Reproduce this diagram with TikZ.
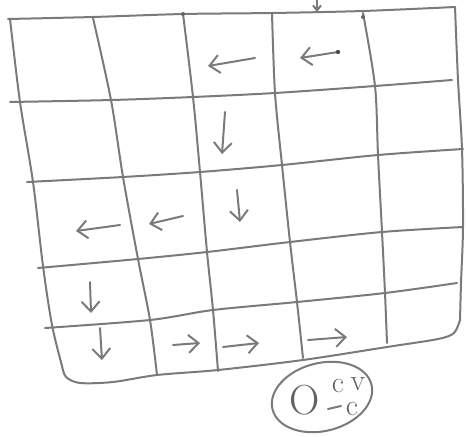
\documentclass[tikz,border=0pt]{standalone}
\usepackage{fontspec}
\usetikzlibrary{arrows.meta,shapes.geometric}
\begin{document}
\begin{tikzpicture}[x=1pt,y=-1pt,
  pencil/.style={draw=black!52, line width=2pt, line cap=round, line join=round},
  arr/.style={pencil, -{Straight Barb[length=10pt,width=18pt]}},
  smallarr/.style={pencil, -{Straight Barb[length=5pt,width=8pt]}},
  hand/.style={text=black!62, inner sep=0pt},
]
\useasboundingbox (0,0) rectangle (468,436);

% horizontal lines
\draw[pencil] plot[smooth] coordinates {(8,19) (93,17) (183,14) (272,13) (363,11) (455,7)};
\draw[pencil] plot[smooth] coordinates {(10,102) (112,100) (193,97) (275,93) (375,86) (452,80)};
\draw[pencil] plot[smooth] coordinates {(27,182) (123,177) (200,172) (282,165) (378,155) (463,149)};
\draw[pencil] plot[smooth] coordinates {(38,268) (138,259) (207,252) (290,242) (382,232) (463,227)};
\draw[pencil] plot[smooth] coordinates {(45,328) (150,320) (213,310) (297,302) (385,293) (457,283)};
% bottom edge with rounded corners
\draw[pencil] plot[smooth] coordinates {(62,366) (66,377) (80,383) (113,382) (157,375) (218,370) (303,360) (387,347) (438,339) (454,333) (460,320)};

% vertical lines
\draw[pencil] plot[smooth] coordinates {(10,19) (20,102) (33,182) (43,266) (52,325) (62,366)};
\draw[pencil] plot[smooth] coordinates {(93,18) (111,100) (123,177) (138,259) (150,320) (157,375)};
\draw[pencil] plot[smooth] coordinates {(183,14) (193,97) (200,172) (207,252) (213,310) (218,371)};
\draw[pencil] plot[smooth] coordinates {(272,13) (275,93) (282,165) (290,242) (297,302) (303,358)};
\draw[pencil] plot[smooth] coordinates {(363,13) (375,86) (378,155) (382,232) (385,293) (387,343)};
\draw[pencil] plot[smooth] coordinates {(455,7) (458,80) (462,149) (463,227) (461,283) (460,320)};

% small marks on the top line
\fill[black!60] (183,14) circle (2);
\fill[black!60] (363,17) circle (2);
\coordinate (m0) at (317,0);
\coordinate (m1) at (317,12);
\draw[smallarr] (m0) -- (m1);

% arrows
\coordinate (a1s) at (255,58);  \coordinate (a1e) at (208,66);
\coordinate (a2s) at (338,52);  \coordinate (a2e) at (300,58);
\coordinate (a3s) at (225,112); \coordinate (a3e) at (222,154);
\coordinate (a4s) at (237,190); \coordinate (a4e) at (240,222);
\coordinate (a5s) at (183,216); \coordinate (a5e) at (149,224);
\coordinate (a6s) at (120,225); \coordinate (a6e) at (76,231);
\coordinate (a7s) at (90,282);  \coordinate (a7e) at (91,313);
\coordinate (a8s) at (100,328); \coordinate (a8e) at (102,360);
\coordinate (a9s) at (173,345); \coordinate (a9e) at (200,343);
\coordinate (a10s) at (223,347); \coordinate (a10e) at (259,343);
\coordinate (a11s) at (308,340); \coordinate (a11e) at (347,337);
\foreach \i in {1,...,11} {\draw[arr] (a\i s) -- (a\i e);}
\fill[black!70] (a2s) circle (2.2);

% circled note
\node[pencil, draw, ellipse, minimum width=102pt, minimum height=68pt, rotate=14, inner sep=0pt] (note) at (322,397) {};
\node[hand, font=\fontsize{42}{42}\selectfont] (o) at (305,400) {O};
\node[hand, font=\fontsize{30}{30}\selectfont] (c1) at (338,386) {c};
\node[hand, font=\fontsize{30}{30}\selectfont] (v1) at (358,384) {v};
\node[hand, font=\fontsize{30}{30}\selectfont] (c2) at (352,409) {c};
\coordinate (d0) at (328,409);
\coordinate (d1) at (341,406);
\draw[pencil] (d0) -- (d1);
\end{tikzpicture}
\end{document}
